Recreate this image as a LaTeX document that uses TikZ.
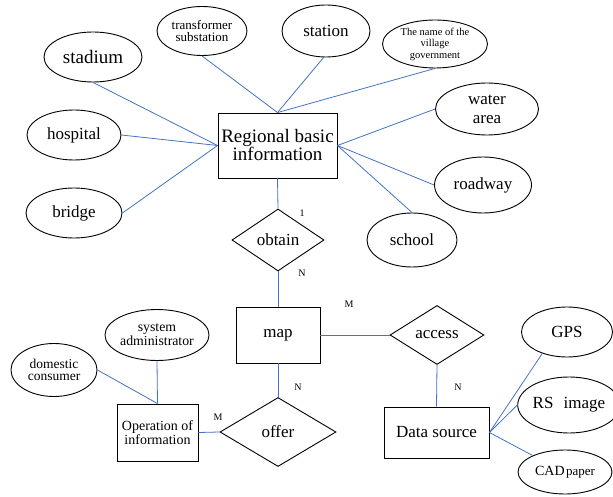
\documentclass[tikz,border=0pt]{standalone}
\usepackage{fontspec}
\setmainfont{Liberation Serif}
\usetikzlibrary{shapes.geometric}
\definecolor{linkblue}{RGB}{68,114,196}
\tikzset{
  ent/.style={draw=black, line width=0.9pt, rectangle, inner sep=0pt, align=center},
  attr/.style={draw=black, line width=0.9pt, ellipse, inner sep=0pt, align=center},
  rel/.style={draw=black, line width=0.9pt, diamond, aspect=1.5, inner sep=0pt, align=center},
  link/.style={draw=linkblue, line width=0.8pt},
  card/.style={inner sep=0pt, font=\fontsize{10}{10}\selectfont},
  big/.style={font=\fontsize{17}{18}\selectfont},
}
\begin{document}
\begin{tikzpicture}[x=1pt,y=-1pt]
\useasboundingbox (0,0) rectangle (613,497);
% entities
\node[ent, minimum width=119pt, minimum height=65pt, font=\fontsize{19}{18}\selectfont] (reg) at (277.5,145.5) {Regional basic\\information};
\node[ent, big, minimum width=84pt, minimum height=56pt] (map) at (278,335) {map};
\node[ent, minimum width=81pt, minimum height=57pt, font=\fontsize{14}{12.5}\selectfont] (op) at (157.5,432.5) {Operation of\\information};
\node[ent, big, minimum width=105pt, minimum height=51pt] (ds) at (436.5,432.5) {Data source};
% relations
\node[rel, big, minimum width=92pt, minimum height=62pt] (obtain) at (278,240) {obtain};
\node[rel, big, minimum width=116pt, minimum height=69pt] (offer) at (278,432) {offer};
\node[rel, big, minimum width=94pt, minimum height=59pt] (access) at (437,335) {access};
% attributes
\node[attr, minimum width=98pt, minimum height=50pt, font=\fontsize{19}{19}\selectfont] (stadium) at (93,57) {stadium};
\node[attr, minimum width=90pt, minimum height=49pt, font=\fontsize{13}{12.5}\selectfont] (ts) at (202,31) {transformer\\substation};
\node[attr, big, minimum width=88pt, minimum height=52pt] (station) at (326,31) {station};
\node[attr, minimum width=105pt, minimum height=48pt, font=\fontsize{10.5}{11.5}\selectfont] (vg) at (435,44) {The name of the\\village\\government};
\node[attr, big, minimum width=94pt, minimum height=50pt] (hospital) at (74,135) {hospital};
\node[attr, big, minimum width=96pt, minimum height=50pt] (bridge) at (74,213) {bridge};
\node[attr, minimum width=103pt, minimum height=52pt, font=\fontsize{17}{19}\selectfont] (water) at (487,109) {water\\area};
\node[attr, big, minimum width=97pt, minimum height=56pt] (road) at (483,185) {roadway};
\node[attr, big, minimum width=90pt, minimum height=54pt] (school) at (412,240) {school};
\node[attr, minimum width=87pt, minimum height=51pt, font=\fontsize{13.8}{13.7}\selectfont] (sys) at (157,335) {system\\administrator};
\node[attr, minimum width=86pt, minimum height=53pt, font=\fontsize{13.5}{12.5}\selectfont] (dom) at (54,370) {domestic\\consumer};
\node[attr, big, minimum width=91pt, minimum height=50pt] (gps) at (567,332) {GPS};
\node[attr, big, minimum width=85pt, minimum height=56pt] (rs) at (569,405) {RS\hspace{0.6em}image};
\node[attr, minimum width=94pt, minimum height=44pt] (cad) at (565,472) {\fontsize{14}{14}\selectfont CAD\hspace{0.1em}\fontsize{13}{14}\selectfont paper};
% cardinalities
\node[card] (c1) at (302,213) {1};
\node[card] (c2) at (302,273) {N};
\node[card] (c3) at (349,304) {M};
\node[card] (c4) at (298,387) {N};
\node[card] (c5) at (218,417) {M};
\node[card] (c6) at (458,387) {N};
% connectors
\draw[link] (stadium.south) -- (reg.west);
\draw[link] (hospital.east) -- (reg.west);
\draw[link] (bridge.east) -- (reg.west);
\draw[link] (ts.south) -- (reg.north);
\draw[link] (station.265) -- (reg.north);
\draw[link] (vg.south) -- (reg.north);
\draw[link] (reg.east) -- (water.west);
\draw[link] (reg.east) -- (road.west);
\draw[link] (reg.east) -- (school.north);
\draw[link] (reg.south) -- (obtain.north);
\draw[link] (obtain.south) -- (map.north);
\draw[link] (map.south) -- (offer.north);
\draw[link] (offer.west) -- (op.east);
\draw[link] (map.east) -- (access.west);
\draw[link] (access.south) -- (ds.north);
\draw[link] (sys.south) -- (op.north);
\draw[link] (dom.east) -- (op.north);
\draw[link] (ds.east) -- (gps.221);
\draw[link] (ds.east) -- (rs.west);
\draw[link] (ds.east) -- (cad.153);
\end{tikzpicture}
\end{document}
